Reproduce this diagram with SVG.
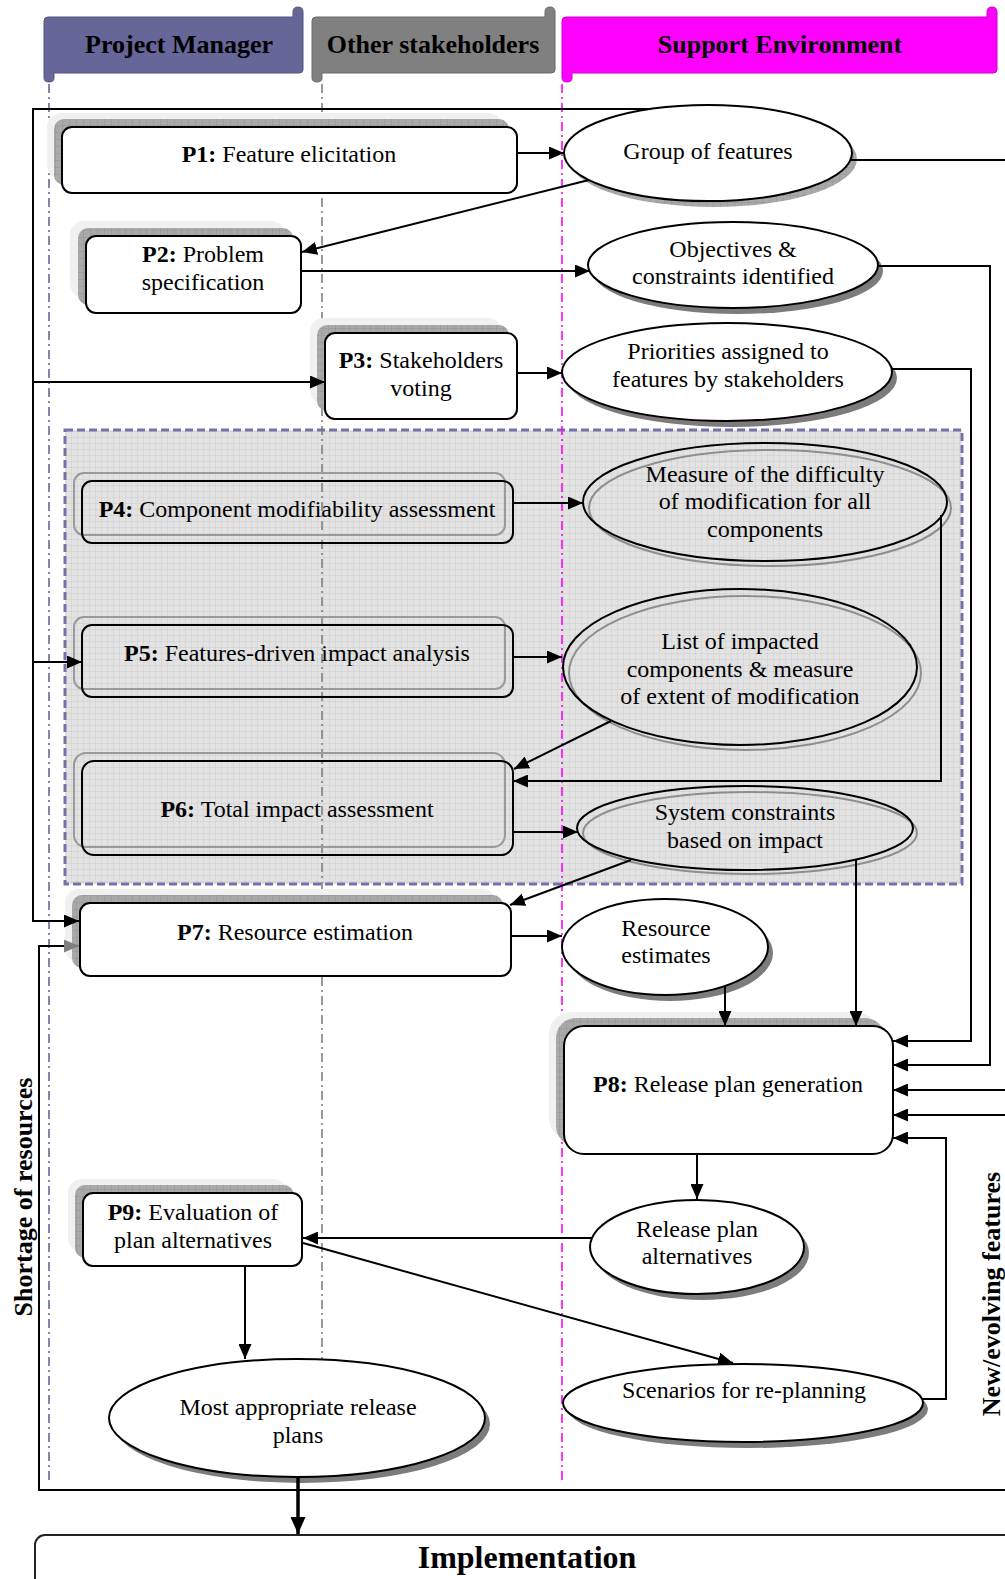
<svg xmlns="http://www.w3.org/2000/svg" width="1005" height="1579" viewBox="0 0 1005 1579">
  <defs>
    <style>
      .t { font-family: "Liberation Serif", "Times New Roman", serif; font-size: 24px; fill: #000; text-anchor: middle; }
      .b { font-weight: bold; }
      .hdr { font-family: "Liberation Serif", "Times New Roman", serif; font-size: 26px; font-weight: bold; fill: #000; text-anchor: middle; }
      .side { font-family: "Liberation Serif", "Times New Roman", serif; font-size: 26px; font-weight: bold; fill: #000; text-anchor: middle; }
      .box { fill: #fff; stroke: #000; stroke-width: 2; }
      .obox { fill: none; stroke: #000; stroke-width: 2; }
      .oshadow { fill: none; stroke: #9a9a9a; stroke-width: 2; }
      .halo { fill: #f0f0f0; }
      .dark { fill: url(#gridDark); }
      .ell { fill: #fff; stroke: #000; stroke-width: 2; }
      .eshadow { fill: #7c7c7c; }
      .pshadow { fill: url(#gridDark); }
      .oell { fill: none; stroke: #000; stroke-width: 2; }
      .oell2 { fill: none; stroke: #8e8e8e; stroke-width: 2; }
      .c { fill: none; stroke: #000; stroke-width: 2; }
      .a { marker-end: url(#arr); }
      .lane { fill: none; stroke-width: 1.6; stroke-dasharray: 9 4 2 4; }
    </style>
    <pattern id="gridDark" width="7" height="7" patternUnits="userSpaceOnUse">
      <rect width="7" height="7" fill="#a9a9a9"/>
      <path d="M7,0 V7 M0,7 H7" stroke="#8c8c8c" stroke-width="0.8"/>
    </pattern>
    <pattern id="gridLight" width="6" height="6" patternUnits="userSpaceOnUse">
      <rect width="6" height="6" fill="#e3e3e3"/>
      <path d="M6,0 V6 M0,6 H6" stroke="#c6c6c6" stroke-width="0.8"/>
    </pattern>
    <marker id="arr" markerUnits="userSpaceOnUse" markerWidth="15" markerHeight="13" refX="15" refY="6.5" orient="auto">
      <path d="M0,0 L15,6.5 L0,13 Z" fill="#000"/>
    </marker>
    <marker id="arrG" markerUnits="userSpaceOnUse" markerWidth="15" markerHeight="13" refX="15" refY="6.5" orient="auto">
      <path d="M0,0 L15,6.5 L0,13 Z" fill="#808080"/>
    </marker>
    <marker id="arrBig" markerUnits="userSpaceOnUse" markerWidth="17" markerHeight="15" refX="17" refY="7.5" orient="auto">
      <path d="M0,0 L17,7.5 L0,15 Z" fill="#000"/>
    </marker>
  </defs>

  <rect width="1005" height="1579" fill="#fff"/>

  <!-- lane headers (horizontal scrolls) -->
  <g id="lane-project-manager">
    <path d="M44,21 Q44,17 48,17 L293,17 L293,12 Q293,7 298,7 Q303,7 303,12 L303,70 Q303,73 299,73 L54,73 L54,78 Q54,82 49,82 Q44,82 44,78 Z" fill="#666699" stroke="#55557f" stroke-width="1"/>
    <text class="hdr" x="179" y="53">Project Manager</text>
  </g>
  <g id="lane-other-stakeholders">
    <path d="M312,21 Q312,17 316,17 L545,17 L545,12 Q545,7 550,7 Q555,7 555,12 L555,70 Q555,73 551,73 L322,73 L322,78 Q322,82 317,82 Q312,82 312,78 Z" fill="#808080" stroke="#6a6a6a" stroke-width="1"/>
    <text class="hdr" x="433" y="53">Other stakeholders</text>
  </g>
  <g id="lane-support-environment">
    <path d="M562,21 Q562,17 566,17 L987,17 L987,12 Q987,7 992,7 Q997,7 997,12 L997,70 Q997,73 993,73 L572,73 L572,78 Q572,82 567,82 Q562,82 562,78 Z" fill="#ff00ff" stroke="#d000d0" stroke-width="1"/>
    <text class="hdr" x="780" y="53">Support Environment</text>
  </g>

  <!-- impact analysis region -->
  <g id="impact-region">
    <rect x="65" y="430" width="897" height="454" fill="url(#gridLight)" stroke="#7373aa" stroke-width="3" stroke-dasharray="8 4"/>
  </g>

  <!-- swim lane separators -->
  <g id="lanes">
    <line class="lane" x1="49" y1="84" x2="49" y2="1482" stroke="#666699"/>
    <line class="lane" x1="322" y1="84" x2="322" y2="1478" stroke="#808080"/>
    <line class="lane" x1="562" y1="84" x2="562" y2="1482" stroke="#ff00ff"/>
  </g>

  <!-- process steps -->
  <g id="P1">
    <rect class="halo" x="47" y="113" width="455" height="66" rx="14"/>
    <rect class="dark" x="54" y="119" width="455" height="66" rx="10"/>
    <rect class="box" x="62" y="127" width="455" height="66" rx="10"/>
    <text class="t" x="289" y="162"><tspan class="b">P1:</tspan> Feature elicitation</text>
  </g>
  <g id="P2">
    <rect class="halo" x="70" y="221" width="215" height="77" rx="14"/>
    <rect class="dark" x="78" y="228" width="215" height="77" rx="10"/>
    <rect class="box" x="86" y="236" width="215" height="77" rx="10"/>
    <text class="t" x="203" y="262"><tspan class="b">P2:</tspan> Problem</text>
    <text class="t" x="203" y="290">specification</text>
  </g>
  <g id="P3">
    <rect class="halo" x="310" y="318" width="192" height="86" rx="14"/>
    <rect class="dark" x="317" y="325" width="192" height="86" rx="10"/>
    <rect class="box" x="325" y="333" width="192" height="86" rx="10"/>
    <text class="t" x="421" y="368"><tspan class="b">P3:</tspan> Stakeholders</text>
    <text class="t" x="421" y="396">voting</text>
  </g>
  <g id="P4">
    <rect class="oshadow" x="74" y="473" width="431" height="62" rx="10"/>
    <rect class="obox" x="82" y="481" width="431" height="62" rx="10"/>
    <text class="t" x="297" y="517"><tspan class="b">P4:</tspan> Component modifiability assessment</text>
  </g>
  <g id="P5">
    <rect class="oshadow" x="74" y="617" width="431" height="72" rx="10"/>
    <rect class="obox" x="82" y="625" width="431" height="72" rx="10"/>
    <text class="t" x="297" y="661"><tspan class="b">P5:</tspan> Features-driven impact analysis</text>
  </g>
  <g id="P6">
    <rect class="oshadow" x="74" y="753" width="431" height="94" rx="12"/>
    <rect class="obox" x="82" y="761" width="431" height="94" rx="12"/>
    <text class="t" x="297" y="817"><tspan class="b">P6:</tspan> Total impact assessment</text>
  </g>
  <g id="P7">
    <rect class="halo" x="65" y="889" width="431" height="73" rx="14"/>
    <rect class="dark" x="72" y="895" width="431" height="73" rx="10"/>
    <rect class="box" x="80" y="903" width="431" height="73" rx="10"/>
    <text class="t" x="295" y="940"><tspan class="b">P7:</tspan> Resource estimation</text>
  </g>
  <g id="P8">
    <rect class="halo" x="549" y="1012" width="329" height="128" rx="22"/>
    <rect class="dark" x="556" y="1018" width="329" height="128" rx="20"/>
    <rect class="box" x="564" y="1026" width="329" height="128" rx="20"/>
    <text class="t" x="728" y="1092"><tspan class="b">P8:</tspan> Release plan generation</text>
  </g>
  <g id="P9">
    <rect class="halo" x="68" y="1179" width="219" height="73" rx="14"/>
    <rect class="dark" x="75" y="1185" width="219" height="73" rx="10"/>
    <rect class="box" x="83" y="1193" width="219" height="73" rx="10"/>
    <text class="t" x="193" y="1220"><tspan class="b">P9:</tspan> Evaluation of</text>
    <text class="t" x="193" y="1248">plan alternatives</text>
  </g>

  <!-- artefacts -->
  <g id="group-of-features">
    <ellipse class="pshadow" cx="713" cy="159" rx="144" ry="48"/>
    <ellipse class="ell" cx="708" cy="153" rx="144" ry="48"/>
    <text class="t" x="708" y="159">Group of features</text>
  </g>
  <g id="objectives">
    <ellipse class="eshadow" cx="738" cy="271" rx="145" ry="43"/>
    <ellipse class="ell" cx="733" cy="265" rx="145" ry="43"/>
    <text class="t" x="733" y="257">Objectives &amp;</text>
    <text class="t" x="733" y="284">constraints identified</text>
  </g>
  <g id="priorities">
    <ellipse class="eshadow" cx="732" cy="378" rx="165" ry="49"/>
    <ellipse class="ell" cx="727" cy="372" rx="165" ry="49"/>
    <text class="t" x="728" y="359">Priorities assigned to</text>
    <text class="t" x="728" y="387">features by stakeholders</text>
  </g>
  <g id="difficulty-measure">
    <ellipse class="oell2" cx="770" cy="508" rx="181" ry="58"/>
    <ellipse class="oell" cx="765" cy="502" rx="182" ry="59"/>
    <text class="t" x="765" y="482">Measure of the difficulty</text>
    <text class="t" x="765" y="509">of modification for all</text>
    <text class="t" x="765" y="537">components</text>
  </g>
  <g id="impacted-components">
    <ellipse class="oell2" cx="745" cy="673" rx="176" ry="77"/>
    <ellipse class="oell" cx="740" cy="667" rx="177" ry="78"/>
    <text class="t" x="740" y="649">List of impacted</text>
    <text class="t" x="740" y="677">components &amp; measure</text>
    <text class="t" x="740" y="704">of extent of modification</text>
  </g>
  <g id="system-constraints">
    <ellipse class="oell2" cx="750" cy="833" rx="167" ry="41"/>
    <ellipse class="oell" cx="745" cy="828" rx="168" ry="42"/>
    <text class="t" x="745" y="820">System constraints</text>
    <text class="t" x="745" y="848">based on impact</text>
  </g>
  <g id="resource-estimates">
    <ellipse class="eshadow" cx="670" cy="953" rx="103" ry="48"/>
    <ellipse class="ell" cx="665" cy="947" rx="103" ry="48"/>
    <text class="t" x="666" y="936">Resource</text>
    <text class="t" x="666" y="963">estimates</text>
  </g>
  <g id="release-plan-alternatives">
    <ellipse class="eshadow" cx="702" cy="1253" rx="107" ry="47"/>
    <ellipse class="ell" cx="697" cy="1247" rx="107" ry="47"/>
    <text class="t" x="697" y="1237">Release plan</text>
    <text class="t" x="697" y="1264">alternatives</text>
  </g>
  <g id="replanning-scenarios">
    <ellipse class="eshadow" cx="748" cy="1409" rx="180" ry="39"/>
    <ellipse class="ell" cx="743" cy="1403" rx="180" ry="39"/>
    <text class="t" x="744" y="1398">Scenarios for re-planning</text>
  </g>
  <g id="most-appropriate-plans">
    <ellipse class="eshadow" cx="302" cy="1424" rx="188" ry="59"/>
    <ellipse class="ell" cx="297" cy="1418" rx="188" ry="59"/>
    <text class="t" x="298" y="1415">Most appropriate release</text>
    <text class="t" x="298" y="1443">plans</text>
  </g>

  <g id="implementation">
    <rect x="35" y="1535" width="1000" height="70" rx="10" fill="#fff" stroke="#222" stroke-width="2"/>
    <text x="527" y="1568" font-family="Liberation Serif, Times New Roman, serif" font-size="32" font-weight="bold" text-anchor="middle">Implementation</text>
  </g>

  <!-- connectors (drawn over the node shadows so every arrowhead stays visible) -->
  <g id="connectors">
    <polyline class="c a" points="650,109 33,109 33,921 79,921"/>
    <line class="c a" x1="33" y1="382" x2="325" y2="382"/>
    <line class="c a" x1="33" y1="662" x2="82" y2="662"/>
    <polyline class="c" points="1005,1490 39,1490 39,946 68,946"/>
    <line x1="64" y1="946" x2="79" y2="946" stroke="#808080" stroke-width="2" marker-end="url(#arrG)"/>
    <line class="c a" x1="517" y1="153" x2="564" y2="153"/>
    <line class="c a" x1="589" y1="180" x2="302" y2="252"/>
    <line class="c a" x1="301" y1="271" x2="590" y2="271"/>
    <line class="c a" x1="517" y1="373" x2="562" y2="373"/>
    <line class="c" x1="850" y1="160" x2="1005" y2="160"/>
    <polyline class="c a" points="877,266 990,266 990,1065 893,1065"/>
    <polyline class="c a" points="892,369 971,369 971,1041 893,1041"/>
    <line class="c a" x1="1005" y1="1090" x2="893" y2="1090"/>
    <line class="c a" x1="1005" y1="1115" x2="893" y2="1115"/>
    <polyline class="c a" points="922,1399 946,1399 946,1138 893,1138"/>
    <line class="c a" x1="513" y1="503" x2="583" y2="503"/>
    <line class="c a" x1="513" y1="657" x2="562" y2="657"/>
    <polyline class="c a" points="941,515 941,781 513,781"/>
    <line class="c a" x1="611" y1="721" x2="514" y2="769"/>
    <line class="c a" x1="513" y1="832" x2="578" y2="832"/>
    <line class="c a" x1="631" y1="860" x2="510" y2="905"/>
    <line class="c a" x1="856" y1="859" x2="856" y2="1026"/>
    <line class="c a" x1="511" y1="936" x2="562" y2="936"/>
    <line class="c a" x1="725" y1="986" x2="725" y2="1026"/>
    <line class="c a" x1="697" y1="1154" x2="697" y2="1199"/>
    <line class="c a" x1="592" y1="1238" x2="303" y2="1238"/>
    <line class="c a" x1="303" y1="1243" x2="733" y2="1363"/>
    <line class="c a" x1="245" y1="1266" x2="245" y2="1359"/>
    <line x1="298" y1="1477" x2="298" y2="1534" stroke="#000" stroke-width="3.5" marker-end="url(#arrBig)"/>
  </g>

  <!-- loop labels -->
  <g id="loop-labels">
    <text class="side" transform="translate(32,1197) rotate(-90)">Shortage of resources</text>
    <text class="side" transform="translate(1000,1294) rotate(-90)">New/evolving features</text>
  </g>
</svg>
